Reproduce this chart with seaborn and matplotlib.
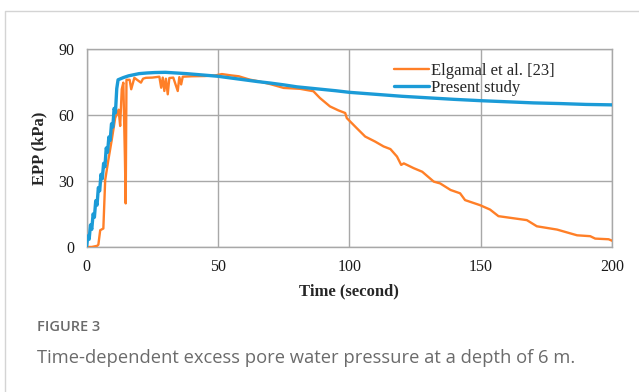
import numpy as np
import pandas as pd
import matplotlib
matplotlib.use("Agg")
import matplotlib.pyplot as plt
import seaborn as sns
from matplotlib.lines import Line2D

# ---------------- data ----------------
present_t = [0, 0.5, 1, 1.5, 2, 2.5, 3, 3.5, 4, 4.5, 5, 5.5, 6, 6.5, 7, 7.5, 8, 8.5, 9, 9.5,
             10, 10.5, 11, 11.5, 12, 14, 16, 18, 20, 23, 26, 30, 34, 38, 42, 46, 50, 55, 60, 65,
             70, 75, 80, 85, 90, 95, 100, 110, 120, 130, 140, 150, 160, 170, 180, 190, 200]
present_epp = [0, 5, 3.5, 10, 8, 15, 13.5, 21, 19, 27, 25.5, 33, 31, 38, 36.5, 45, 43, 50, 48.5, 56,
               54.5, 63, 61, 72, 76, 77, 77.8, 78.3, 78.8, 79.1, 79.3, 79.4, 79.1, 78.8, 78.4, 78, 77.6, 76.8, 76, 75.2,
               74.5, 73.7, 72.8, 72.2, 71.6, 71, 70.3, 69.4, 68.5, 67.8, 67.1, 66.5, 66, 65.5, 65.2, 64.8, 64.6]

elgamal_t = [0, 2, 4, 4.5, 5.2, 6.4, 7.1, 8.3, 9.6, 10.9, 12.2, 12.8, 13.4, 14, 14.6, 14.9, 15.2, 16.4,
             17, 18.2, 20.7, 21.5, 22.6, 25, 27.7, 28.4, 29, 29.6, 30.2, 30.9, 31.5, 33, 34.7, 35.3, 36,
             36.6, 40, 45, 49, 51.5, 55, 57.9, 62, 65.5, 70, 75, 81.2, 86.3, 88.8, 92.6, 95.8, 98.4, 99,
             102.8, 106, 109.8, 113, 115.6, 118.1, 119.7, 120.7, 124.5, 127.7, 132.1, 134.5, 138.5,
             142.1, 144, 149.7, 153.5, 156.7, 167.5, 171.3, 179, 186.6, 191.6, 193.5, 198.6, 200]
elgamal_epp = [0, 0, 0.5, 1, 7.6, 8.4, 30.4, 39.5, 48.7, 58.6, 62.4, 55, 71.7, 74.7, 41, 19.8, 76, 76,
               71.7, 76.9, 74.7, 76.5, 76.9, 77, 77.4, 72.4, 77, 70.9, 76.5, 69.4, 76.8, 77, 70.9, 77.2, 73.9,
               77.4, 77.6, 77.7, 78, 78.6, 78, 77.6, 76.1, 75.3, 74, 72.3, 71.9, 70.8, 67.7, 63.9, 62.1, 60.9, 58.6,
               54, 50.2, 47.9, 45.7, 44.5, 41.1, 37.3, 38, 35.8, 34.2, 29.7, 28.9, 25.9,
               24.4, 21.3, 19, 17, 14, 12.2, 9.4, 7.9, 5.3, 4.9, 3.8, 3.5, 2.8]

series_labels = ["Elgamal et al. [23]", "Present study"]
x_ticks = [0, 50, 100, 150, 200]
y_ticks = [0, 30, 60, 90]

# ---------------- style ----------------
sns.set_style("white")
plt.rcParams["font.family"] = ["Liberation Serif", "DejaVu Serif"]

c_orange = "#ff7f27"
c_blue = "#1b9bd7"
grid_c = "#a8a8a8"

fig = plt.figure(figsize=(6.39, 3.92), dpi=100)
ax = fig.add_axes([0.1354, 0.370, 0.8228, 0.505])

df_e = pd.DataFrame({"t": elgamal_t, "epp": elgamal_epp})
df_p = pd.DataFrame({"t": present_t, "epp": present_epp})

sns.lineplot(data=df_e, x="t", y="epp", ax=ax, color=c_orange, lw=1.7,
             estimator=None, sort=False, zorder=3)
sns.lineplot(data=df_p, x="t", y="epp", ax=ax, color=c_blue, lw=2.4,
             estimator=None, sort=False, zorder=4)

ax.set_xlim(0, 200)
ax.set_ylim(0, 90)
ax.set_xticks(x_ticks)
ax.set_yticks(y_ticks)
ax.tick_params(length=0, labelsize=11.5, colors="#1a1a1a", pad=9)
ax.grid(True, color=grid_c, lw=1.0)
ax.set_axisbelow(True)
for s in ax.spines.values():
    s.set_visible(True)
    s.set_color(grid_c)
    s.set_linewidth(1.0)

ax.set_xlabel("Time (second)", fontsize=12, fontweight="bold", labelpad=6)
ax.set_ylabel("EPP (kPa)", fontsize=12, fontweight="bold", labelpad=8)

handles = [Line2D([0], [0], color=c_orange, lw=1.7),
           Line2D([0], [0], color=c_blue, lw=2.4)]
ax.legend(handles, series_labels, loc="upper left", bbox_to_anchor=(0.585, 0.93),
          frameon=False, fontsize=12, handlelength=2.1, handletextpad=0.12,
          labelspacing=0.08, borderpad=0, borderaxespad=0)

# card border
fig.add_artist(Line2D([4.5 / 639, 4.5 / 639, 1.0], [0, 1 - 11 / 392, 1 - 11 / 392],
                      transform=fig.transFigure, color="#d4d4d4", lw=1.0))

# caption
cap_font = ["Open Sans", "DejaVu Sans"]
fig.text(37 / 639, 1 - 327 / 392, "FIGURE 3", family=cap_font, fontsize=10.5,
         fontweight="semibold", color="#6b6b6b", va="center", ha="left")
fig.text(37 / 639, 1 - 358 / 392, "Time-dependent excess pore water pressure at a depth of 6 m.",
         family=cap_font, fontsize=13.2, color="#6b6b6b", va="center", ha="left")

fig.savefig("out.png", dpi=100)
